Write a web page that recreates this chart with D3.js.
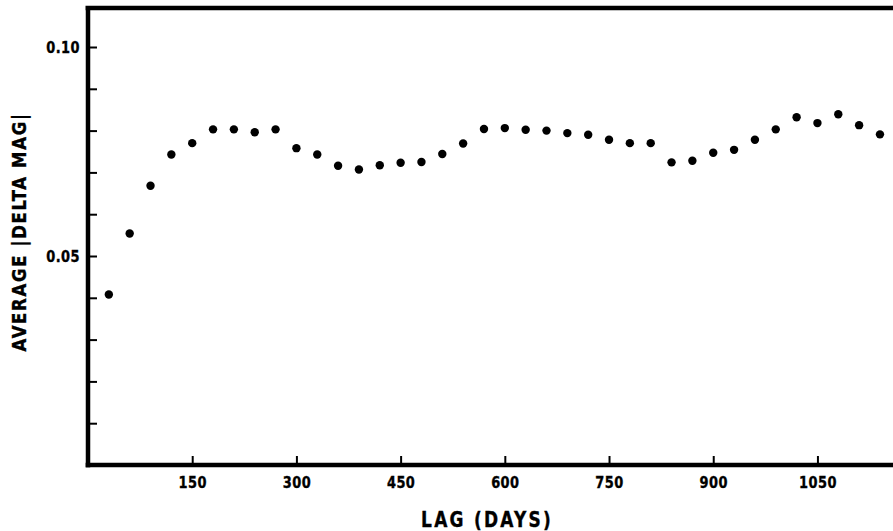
<!DOCTYPE html>
<html>
<head>
<meta charset="utf-8">
<script src="https://cdn.jsdelivr.net/npm/d3@7"></script>
<style>
  body { margin: 0; background: #fff; }
  svg text { font-family: "DejaVu Sans", sans-serif; font-stretch: condensed; font-weight: bold; fill: #000; stroke: #000; stroke-width: 0.35px; }
</style>
</head>
<body>
<div id="chart"></div>
<script>
// Lag in days and average |delta mag|
var lags = [30, 60, 90, 120, 150, 180, 210, 240, 270, 300, 330, 360, 390, 420, 450, 480, 510, 540,
            570, 600, 630, 660, 690, 720, 750, 780, 810, 840, 870, 900, 930, 960, 990, 1020, 1050, 1080, 1110, 1140];
var avgDeltaMag = [0.0408, 0.0554, 0.0668, 0.0743, 0.0770, 0.0803, 0.0803, 0.0796, 0.0803, 0.0758,
                   0.0743, 0.0716, 0.0707, 0.0717, 0.0723, 0.0725, 0.0744, 0.0769, 0.0804, 0.0806,
                   0.0802, 0.0800, 0.0794, 0.0790, 0.0778, 0.0770, 0.0770, 0.0724, 0.0728, 0.0747,
                   0.0754, 0.0778, 0.0803, 0.0832, 0.0818, 0.0839, 0.0813, 0.0791];
var xTicks = [150, 300, 450, 600, 750, 900, 1050];
var yTicks = [0.01, 0.02, 0.03, 0.04, 0.05, 0.06, 0.07, 0.08, 0.09, 0.10];
var yLabelled = [0.05, 0.10];

var width = 893, height = 531;
var margin = {top: 8, left: 88, bottom: 66};

var svg = d3.select("#chart").append("svg")
    .attr("width", width)
    .attr("height", height);

var xScale = d3.scaleLinear()
    .domain([0, 1200])
    .range([margin.left, margin.left + 1200 * 0.6947]);

var yScale = d3.scaleLinear()
    .domain([0, 0.10])
    .range([height - margin.bottom, 47]);

// x axis with inward ticks
var xAxis = d3.axisBottom(xScale)
    .tickValues(xTicks)
    .tickFormat(d3.format("d"))
    .tickSizeInner(-9)
    .tickSizeOuter(0)
    .tickPadding(13);

var xAxisG = svg.append("g")
    .attr("class", "x axis")
    .attr("transform", "translate(0," + yScale(0) + ")")
    .call(xAxis);

// y axis with inward ticks, labels only at 0.05 and 0.10
var yAxis = d3.axisLeft(yScale)
    .tickValues(yTicks)
    .tickFormat(function(d) {
        return yLabelled.some(function(v) { return Math.abs(v - d) < 1e-9; }) ? d3.format(".2f")(d) : "";
    })
    .tickSizeInner(-9)
    .tickSizeOuter(0)
    .tickPadding(8);

var yAxisG = svg.append("g")
    .attr("class", "y axis")
    .attr("transform", "translate(" + xScale(0) + ",0)")
    .call(yAxis);

svg.selectAll(".axis .domain").remove();
svg.selectAll(".axis .tick line")
    .attr("stroke", "#000")
    .attr("stroke-width", 2);

// taller, squeezed glyphs to look like the condensed typeface of the original
xAxisG.selectAll(".tick text")
    .style("font-size", "16px")
    .attr("y", 12)
    .attr("transform", "scale(0.9,1)")
    .style("letter-spacing", "0.5px");
yAxisG.selectAll(".tick text")
    .style("font-size", "16px")
    .attr("x", -8 / 0.9)
    .attr("transform", "scale(0.9,1)")
    .style("letter-spacing", "0.5px");

// heavy frame: left, top and bottom edges
var x0 = xScale(0), yb = yScale(0);
svg.append("path")
    .attr("d", "M" + (x0 - 2.5) + "," + margin.top + "H" + width +
               "M" + x0 + "," + margin.top + "V" + (yb + 2.5) +
               "M" + (x0 - 2.5) + "," + yb + "H" + width)
    .attr("fill", "none")
    .attr("stroke", "#000")
    .attr("stroke-width", 4.5);

// data points
svg.append("g")
    .selectAll("circle")
    .data(lags)
    .enter()
    .append("circle")
    .attr("cx", function(d) { return xScale(d); })
    .attr("cy", function(d, i) { return yScale(avgDeltaMag[i]); })
    .attr("r", 4.2)
    .attr("fill", "#000");

// axis titles
svg.append("text")
    .attr("transform", "translate(487,527) scale(0.9,1)")
    .attr("text-anchor", "middle")
    .style("font-size", "21px")
    .style("letter-spacing", "2.5px")
    .text("LAG (DAYS)");

svg.append("text")
    .attr("transform", "translate(26,232) rotate(-90) scale(0.92,1)")
    .attr("text-anchor", "middle")
    .style("font-size", "20px")
    .style("letter-spacing", "1.8px")
    .text("AVERAGE |DELTA MAG|");
</script>
</body>
</html>
